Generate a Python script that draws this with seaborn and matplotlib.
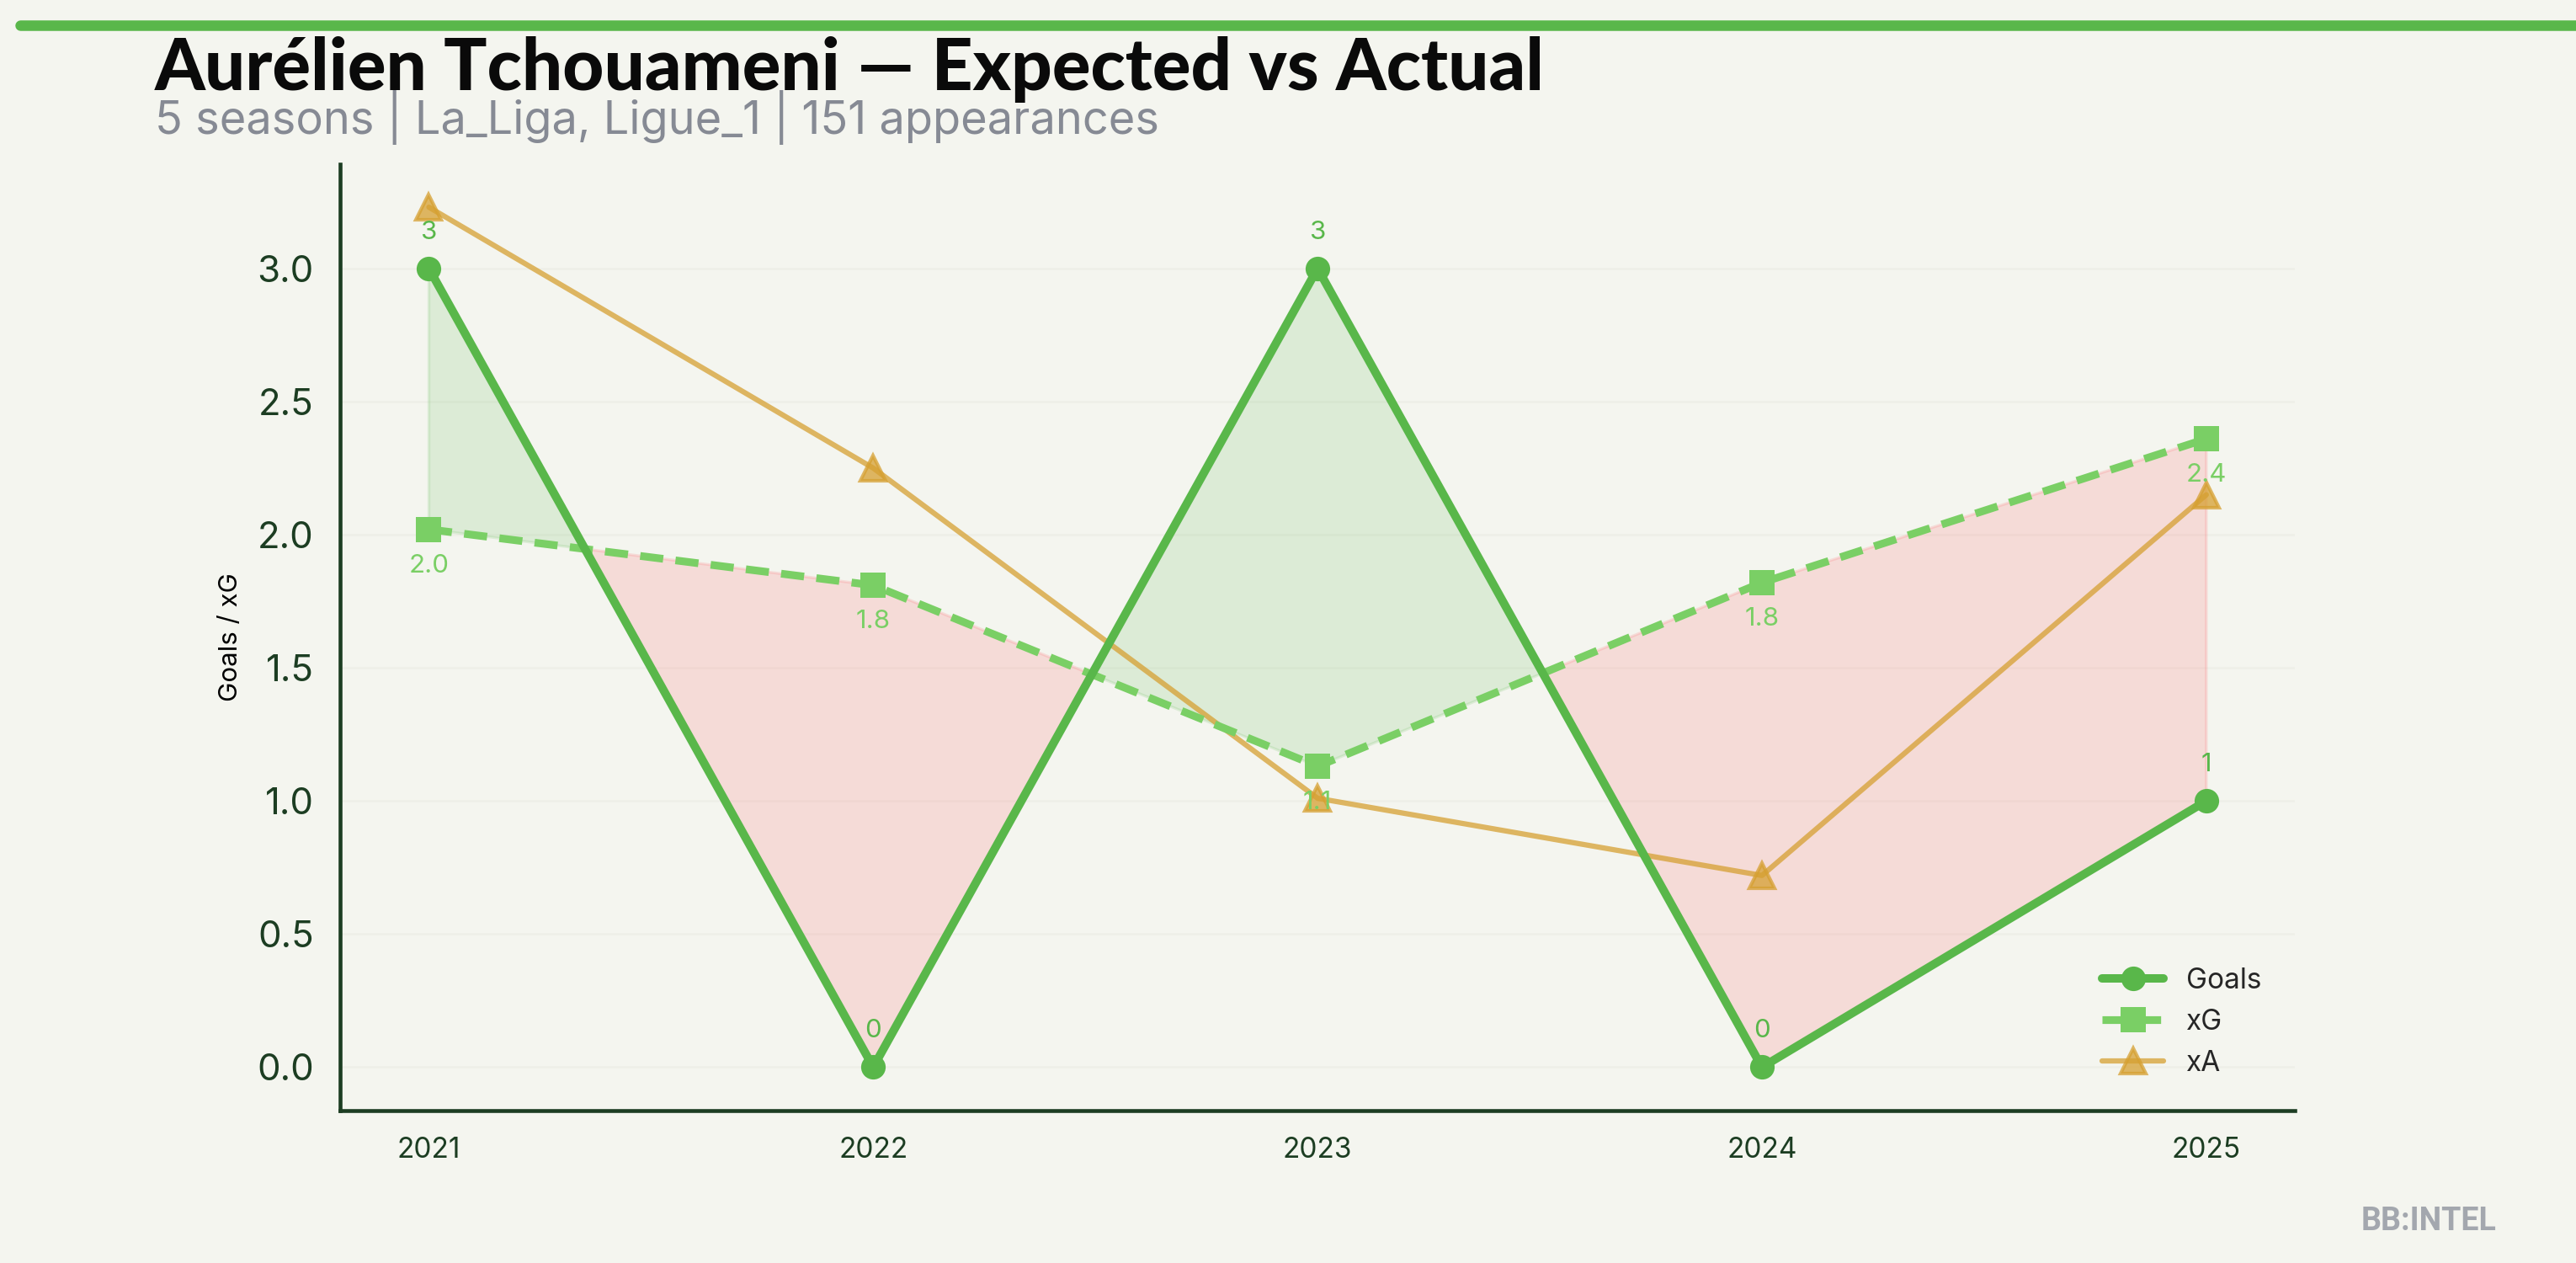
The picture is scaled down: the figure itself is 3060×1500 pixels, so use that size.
import numpy as np
import pandas as pd
import seaborn as sns
import matplotlib.pyplot as plt

# -----------------------------
# Data
# -----------------------------
seasons = [2021, 2022, 2023, 2024, 2025]
goals = [3, 0, 3, 0, 1]
xg = [2.02, 1.81, 1.13, 1.82, 2.36]
xa = [3.23, 2.25, 1.01, 0.72, 2.15]

title = "Aurélien Tchouameni — Expected vs Actual"
subtitle = "5 seasons | La_Liga, Ligue_1 | 151 appearances"

BG = "#f4f5ef"
GREEN = "#59b74a"
LIGHT_GREEN = "#7acf65"
GOLD = "#d6a031"
DARK = "#1c3d22"
RED = "#ff5e64"

df = pd.DataFrame({"season": seasons, "Goals": goals, "xG": xg, "xA": xa})

# -----------------------------
# Style
# -----------------------------
sns.set_theme(style="white")
plt.rcParams["font.family"] = ["Inter", "DejaVu Sans"]
plt.rcParams["figure.facecolor"] = BG
plt.rcParams["axes.facecolor"] = BG

fig = plt.figure(figsize=(10.2, 5), dpi=300)
ax = fig.add_axes([0.132, 0.121, 0.759, 0.749])

# over / under performance fill
g = np.array(goals, dtype=float)
x = np.array(xg, dtype=float)
ax.fill_between(seasons, g, x, where=g >= x, interpolate=True,
                color=GREEN, alpha=0.15, linewidth=0.8, zorder=1)
ax.fill_between(seasons, g, x, where=g < x, interpolate=True,
                color=RED, alpha=0.17, linewidth=0.8, zorder=1)

sns.lineplot(data=df, x="season", y="Goals", ax=ax, color=GREEN, lw=2.4,
             marker="o", markersize=7, markeredgewidth=0, label="Goals", zorder=4)
sns.lineplot(data=df, x="season", y="xG", ax=ax, color=LIGHT_GREEN, lw=2.2,
             linestyle=(0, (3, 1.6)), marker="s", markersize=7, markeredgewidth=0,
             label="xG", zorder=3)
sns.lineplot(data=df, x="season", y="xA", ax=ax, color=GOLD, lw=1.5, alpha=0.75,
             marker="^", markersize=7, markeredgecolor=GOLD, markeredgewidth=1,
             label="xA", zorder=2)

# value labels
for s, v in zip(seasons, goals):
    ax.annotate(f"{v}", (s, v), xytext=(0, 7), textcoords="offset points",
                ha="center", va="bottom", fontsize=7.5, color=GREEN)
for s, v in zip(seasons, xg):
    ax.annotate(f"{v:.1f}", (s, v), xytext=(0, -7), textcoords="offset points",
                ha="center", va="top", fontsize=7.5, color=LIGHT_GREEN)

# axes styling
ax.set_xticks(seasons)
ax.set_xticklabels([str(s) for s in seasons])
ax.set_yticks([0, 0.5, 1.0, 1.5, 2.0, 2.5, 3.0])
ax.tick_params(axis="x", labelsize=8, colors=DARK, length=4, width=1)
ax.tick_params(axis="y", labelsize=10.5, colors=DARK, length=4, width=1)
ax.set_xlabel("")
ax.set_ylabel("Goals / xG", fontsize=7.5, color="black")
ax.grid(axis="y", color="#eeefe8", linewidth=0.6)
ax.set_axisbelow(True)
sns.despine(ax=ax)
for sp in ["left", "bottom"]:
    ax.spines[sp].set_color(DARK)
    ax.spines[sp].set_linewidth(1.1)

leg = ax.legend(loc="lower right", frameon=False, fontsize=8, handlelength=2.2,
                borderaxespad=0.8)

# header
fig.add_artist(plt.Line2D([0.008, 1.0], [0.98, 0.98], color=GREEN, lw=3,
                          transform=fig.transFigure))
fig.text(0.06, 0.929, title, fontsize=20.5, fontweight="black",
         family=["Lato", "DejaVu Sans"], color="#0a0a0a", va="baseline")
fig.text(0.06, 0.894, subtitle, fontsize=13, color="#868a94", va="baseline")
fig.text(0.969, 0.026, "BB:INTEL", fontsize=9, fontweight="bold",
         family=["Roboto", "DejaVu Sans"], color="#a3a7ae", ha="right", va="baseline")

fig.savefig("out.png", dpi=300, facecolor=BG)
